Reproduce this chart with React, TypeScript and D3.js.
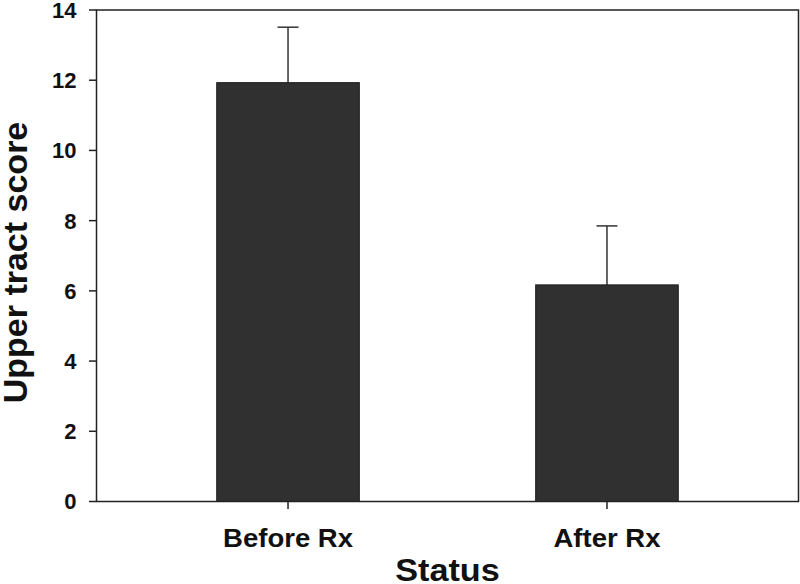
import React from "react";
import * as d3 from "d3";

const categories: string[] = ["Before Rx", "After Rx"];
const means: number[] = [11.93, 6.17];
const errors: number[] = [1.58, 1.68];
const yTicks: number[] = [0, 2, 4, 6, 8, 10, 12, 14];

const W = 800;
const H = 584;
const left = 96.5;
const right = 798.5;
const top = 10;
const bottom = 501.5;
const FONT = "'Liberation Sans', Arial, Helvetica, sans-serif";

export default function App() {
  const x = d3
    .scaleBand<string>()
    .domain(categories)
    .range([left, right])
    .paddingInner(0.553)
    .paddingOuter(0.377);
  const y = d3.scaleLinear().domain([0, 14]).range([bottom, top]);
  const bw = x.bandwidth();
  const capHalf = 10.5;

  return (
    <svg
      width={W}
      height={H}
      style={{ position: "absolute", left: 0, top: 0, background: "#fff" }}
      fontFamily={FONT}
    >
      {categories.map((c, i) => {
        const x0 = x(c)!;
        const cx = x0 + bw / 2;
        const yTop = y(means[i]);
        const yErr = y(means[i] + errors[i]);
        return (
          <g key={c}>
            <line x1={cx} x2={cx} y1={yTop} y2={yErr} stroke="#333" strokeWidth={1.5} />
            <line x1={cx - capHalf} x2={cx + capHalf} y1={yErr} y2={yErr} stroke="#333" strokeWidth={1.5} />
            <rect
              x={x0}
              y={yTop}
              width={bw}
              height={bottom - yTop}
              fill="#303030"
              stroke="#1a1a1a"
              strokeWidth={1}
            />
          </g>
        );
      })}
      <rect x={left} y={top} width={right - left} height={bottom - top} fill="none" stroke="#222" strokeWidth={1.5} />
      {yTicks.map((t) => (
        <g key={t}>
          <line x1={left - 7.5} x2={left} y1={y(t)} y2={y(t)} stroke="#222" strokeWidth={1.5} />
          <text
            x={76.5}
            y={y(t)}
            dy="0.36em"
            textAnchor="end"
            fontSize={22}
            fontWeight="bold"
            fill="#111"
          >
            {t}
          </text>
        </g>
      ))}
      {categories.map((c) => {
        const cx = x(c)! + bw / 2;
        return (
          <g key={c}>
            <line x1={cx} x2={cx} y1={bottom} y2={bottom + 7.5} stroke="#222" strokeWidth={1.5} />
            <text
              transform={`translate(${cx},546.5) scale(1.1,1)`}
              textAnchor="middle"
              fontSize={25}
              fontWeight="bold"
              fill="#111"
            >
              {c}
            </text>
          </g>
        );
      })}
      <text
        transform={`translate(${(left + right) / 2},580.5) scale(1.07,1)`}
        textAnchor="middle"
        fontSize={32}
        fontWeight="bold"
        fill="#111"
      >
        Status
      </text>
      <text
        transform={`translate(26.5,262.5) rotate(-90)`}
        textAnchor="middle"
        fontSize={34}
        fontWeight="bold"
        fill="#111"
      >
        Upper tract score
      </text>
    </svg>
  );
}
